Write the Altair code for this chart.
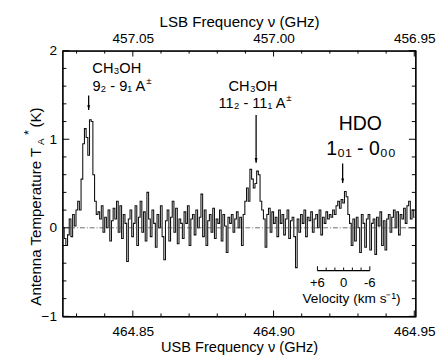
import altair as alt
import pandas as pd

# ---------------- data ----------------
chan_start = 464.8253      # GHz, centre of first channel (USB)
chan_width = 0.0006        # GHz
ta_values = [
    0.0, -0.12, -0.2, -0.08, 0.1, -0.1, 0.15, 0.02, 0.2,
    0.3, 0.2, 0.55, 0.95, 1.12, 1.02, 0.82, 1.22, 1.2, 0.6, 0.3, 0.15,
    0.18, 0.1, 0.25, -0.05, 0.12, 0.0, 0.2, -0.15, 0.08, 0.22,
    0.1, 0.3, -0.05, 0.25, -0.12, 0.15, 0.05, -0.38, 0.1, 0.2,
    -0.1, 0.05, 0.25, -0.2, 0.12, 0.3, -0.05, 0.18, -0.15, 0.4,
    0.1, -0.1, 0.2, 0.05, -0.22, 0.15, 0.0, 0.25, -0.1, -0.36,
    0.08, 0.2, -0.15, 0.12, 0.3, -0.05, 0.22, -0.18, 0.1, 0.05,
    -0.12, 0.18, 0.05, 0.25, -0.2, 0.1, 0.15, -0.08, 0.2, 0.0,
    0.12, 0.38, -0.1, 0.2, -0.2, 0.08, 0.15, -0.05, 0.22, -0.12,
    0.1, 0.05, 0.2, -0.15, 0.15, 0.02, -0.28, 0.12, 0.05, 0.15,
    -0.05, 0.1, 0.18, 0.0, 0.12, -0.2,
    0.15, 0.3, 0.45, 0.3, 0.66, 0.55, 0.45, 0.5, 0.64, 0.6, 0.3, 0.2,
    0.1, -0.22, 0.15, 0.22, -0.05, 0.18, 0.05, 0.12, -0.1, 0.2,
    0.05, 0.15, -0.08, 0.1, 0.2, -0.12, 0.08, 0.12, -0.1, -0.45,
    0.1, -0.05, 0.15, 0.05, 0.2, -0.1, 0.12, 0.08, 0.18, -0.05,
    0.1, 0.15, 0.0, 0.2, -0.08, 0.12, 0.05, 0.18, 0.1, 0.15,
    0.12, 0.2, 0.15, 0.25, 0.3, 0.22, 0.32, 0.28, 0.41, 0.35, 0.15, 0.05,
    -0.2, 0.1, -0.15, 0.12, 0.0, -0.28, 0.15, 0.05, -0.22, 0.1,
    0.15, -0.25, 0.05, 0.1, -0.3, 0.12, 0.02, 0.18, -0.2, 0.08,
    -0.25, 0.1, 0.15, -0.05, 0.12, 0.2, 0.0, 0.18, -0.08, 0.15,
    0.1, 0.22, 0.05, 0.25, 0.3, 0.1, 0.2, 0.12,
]
usb_freq = [round(chan_start + i * chan_width, 5) for i in range(len(ta_values))]

usb_major = [464.85, 464.90, 464.95]
usb_minor = [464.83, 464.84, 464.86, 464.87, 464.88, 464.89,
             464.91, 464.92, 464.93, 464.94]
lsb_labels = [457.05, 457.00, 456.95]
y_major = [-1, 0, 1, 2]
y_minor = [-0.8, -0.6, -0.4, -0.2, 0.2, 0.4, 0.6, 0.8, 1.2, 1.4, 1.6, 1.8]

x_domain = [464.825, 464.9505]
lo2 = 921.9                      # USB + LSB
lsb_domain = [round(lo2 - x_domain[1], 4), round(lo2 - x_domain[0], 4)]

# line annotations
label_x = [464.8443, 464.8927]
label_y = [1.80, 1.60]
label_name = ["CH₃OH", "CH₃OH"]
trans_x = [464.8544, 464.9042]
trans_y = [1.60, 1.41]
trans_text = ["9₂ - 9₁ A", "11₂ - 11₁ A"]
pm_y = [1.655, 1.465]
hdo_x = [464.9308, 464.9311]
hdo_y = [1.165, 0.89]
hdo_text = ["HDO", "1₀₁ - 0₀₀"]
arrow_x = [464.8343, 464.8938, 464.92455]
arrow_top = [1.495, 1.275, 0.725]
arrow_tip = [1.33, 0.736, 0.505]

# velocity scale bar
c_kms = 299792.458
f_hdo = 464.9249
vel_ticks = [6, 4, 2, 0, -2, -4, -6]
vel_labels = ["+6", "0", "-6"]
vel_label_v = [6, 0, -6]
bar_y = -0.484

W, H = 363, 273
FONT = "Liberation Sans"

xs = alt.Scale(domain=x_domain, nice=False, zero=False)
ys = alt.Scale(domain=[-1, 2], nice=False, zero=False)

# ---------------- layers ----------------
spec_df = pd.DataFrame({"usb": usb_freq, "ta": ta_values})
spec = alt.Chart(spec_df).mark_line(
    interpolate="step", color="#111", strokeWidth=1.1, clip=True
).encode(
    x=alt.X("usb:Q", scale=xs, axis=alt.Axis(
        values=usb_major, format=".2f", title="USB Frequency ν (GHz)",
        orient="bottom", ticks=False, grid=False, labelFlush=False,
        labelPadding=9, titlePadding=1, titleFontSize=15)),
    y=alt.Y("ta:Q", scale=ys, axis=alt.Axis(
        values=y_major, format="d", title=None, ticks=False, grid=False,
        labelPadding=6)),
)

zero_line = alt.Chart(pd.DataFrame({"y": [0]})).mark_rule(
    color="#444", strokeWidth=0.8, strokeDash=[5, 2, 1, 2]
).encode(y=alt.Y("y:Q", scale=ys))

right_edge = alt.Chart(pd.DataFrame({"e": [0]})).mark_rule(
    color="black", strokeWidth=1.2
).encode(x=alt.value(W), y=alt.value(0), y2=alt.value(H))

def xticks(vals, length, top):
    df = pd.DataFrame({"v": vals})
    y0 = 0 if top else H
    y1 = length if top else H - length
    return alt.Chart(df).mark_rule(color="black", strokeWidth=1).encode(
        x=alt.X("v:Q", scale=xs), y=alt.value(y0), y2=alt.value(y1))

def yticks(vals, length, right):
    df = pd.DataFrame({"v": vals})
    x0 = W if right else 0
    x1 = W - length if right else length
    return alt.Chart(df).mark_rule(color="black", strokeWidth=1).encode(
        y=alt.Y("v:Q", scale=ys), x=alt.value(x0), x2=alt.value(x1))

tick_layers = [
    xticks(usb_major, 6, False), xticks(usb_minor, 3, False),
    xticks(usb_major, 6, True), xticks(usb_minor, 3, True),
    yticks(y_major, 7, False), yticks(y_minor, 4, False),
    yticks(y_major, 7, True), yticks(y_minor, 4, True),
]

def txt(df, size, align, **kw):
    return alt.Chart(df).mark_text(
        font=FONT, fontSize=size, color="black", align=align, baseline="middle", **kw
    ).encode(x=alt.X("x:Q", scale=xs), y=alt.Y("y:Q", scale=ys), text="t:N")

names = txt(pd.DataFrame({"x": label_x, "y": label_y, "t": label_name}), 15, "center")
trans = txt(pd.DataFrame({"x": trans_x, "y": trans_y, "t": trans_text}), 15, "right")
pm = txt(pd.DataFrame({"x": trans_x, "y": pm_y, "t": ["±", "±"]}), 10, "left", dx=1)
hdo = txt(pd.DataFrame({"x": hdo_x, "y": hdo_y, "t": hdo_text}), 20, "center")

arrow_df = pd.DataFrame({"x": arrow_x, "y1": arrow_top, "y2": arrow_tip})
shafts = alt.Chart(arrow_df).mark_rule(color="black", strokeWidth=1.3).encode(
    x=alt.X("x:Q", scale=xs), y=alt.Y("y1:Q", scale=ys), y2="y2:Q")
heads = alt.Chart(arrow_df).mark_point(
    shape="M-0.5,-1.6L0.5,-1.6L0,0Z", filled=True, size=36, color="black", opacity=1
).encode(x=alt.X("x:Q", scale=xs), y=alt.Y("y2:Q", scale=ys))

vel_f = [f_hdo * (1 - v / c_kms) for v in vel_ticks]
bar_df = pd.DataFrame({"x1": [vel_f[0]], "x2": [vel_f[-1]], "y": [bar_y]})
bar = alt.Chart(bar_df).mark_rule(color="black", strokeWidth=1.2).encode(
    x=alt.X("x1:Q", scale=xs), x2="x2:Q", y=alt.Y("y:Q", scale=ys))
bt_df = pd.DataFrame({"x": vel_f, "y1": [bar_y] * len(vel_f),
                      "y2": [bar_y + (0.05 if i in (0, len(vel_f) - 1) else 0.035)
                             for i in range(len(vel_f))]})
bar_ticks = alt.Chart(bt_df).mark_rule(color="black", strokeWidth=1).encode(
    x=alt.X("x:Q", scale=xs), y=alt.Y("y1:Q", scale=ys), y2="y2:Q")
vl_df = pd.DataFrame({"x": [f_hdo * (1 - v / c_kms) for v in vel_label_v],
                      "y": [-0.63] * 3, "t": vel_labels})
vel_lab = txt(vl_df, 13.5, "center")
vel_title = txt(pd.DataFrame({"x": [464.9277], "y": [-0.81], "t": ["Velocity (km s⁻¹)"]}),
                14, "center")

# y-axis title composed of pieces (sub/superscripts)
def ytxt(text, size, x, y, align):
    return alt.Chart(pd.DataFrame({"t": [text]})).mark_text(
        font=FONT, fontSize=size, color="black", angle=270, align=align, baseline="middle"
    ).encode(x=alt.value(x), y=alt.value(y), text="t:N")

yt_main = ytxt("Antenna Temperature T", 15.5, -27, 262, "left")
yt_sub = ytxt("A", 10, -22, 97, "left")
yt_sup = ytxt("*", 13, -34, 84, "center")
yt_end = ytxt(" (K)", 15.5, -27, 79, "left")

usb_group = alt.layer(
    spec, zero_line, right_edge, *tick_layers, names, trans, pm, hdo, shafts, heads,
    bar, bar_ticks, vel_lab, vel_title, yt_main, yt_sub, yt_sup, yt_end,
)

lsb_layer = alt.Chart(pd.DataFrame({"lsb": lsb_labels})).mark_point(opacity=0).encode(
    x=alt.X("lsb:Q",
            scale=alt.Scale(domain=lsb_domain, reverse=True, nice=False, zero=False),
            axis=alt.Axis(orient="top", values=lsb_labels, format=".2f",
                          title="LSB Frequency ν (GHz)", ticks=False, grid=False,
                          labelFlush=False, labelPadding=5, titlePadding=3)),
    y=alt.value(0),
)

chart = alt.layer(usb_group, lsb_layer).resolve_scale(x="independent").properties(
    width=W, height=H,
    padding={"left": 16, "top": 2, "right": 5, "bottom": 2},
).configure_view(stroke="black", strokeWidth=1.2).configure_axis(
    domainColor="black", domainWidth=1.2, labelColor="black", titleColor="black",
    labelFont=FONT, titleFont=FONT, labelFontSize=14, titleFontSize=15.5,
    titleFontWeight="normal",
)

chart.save("out.html", embed_options={"renderer": "svg", "actions": False})
